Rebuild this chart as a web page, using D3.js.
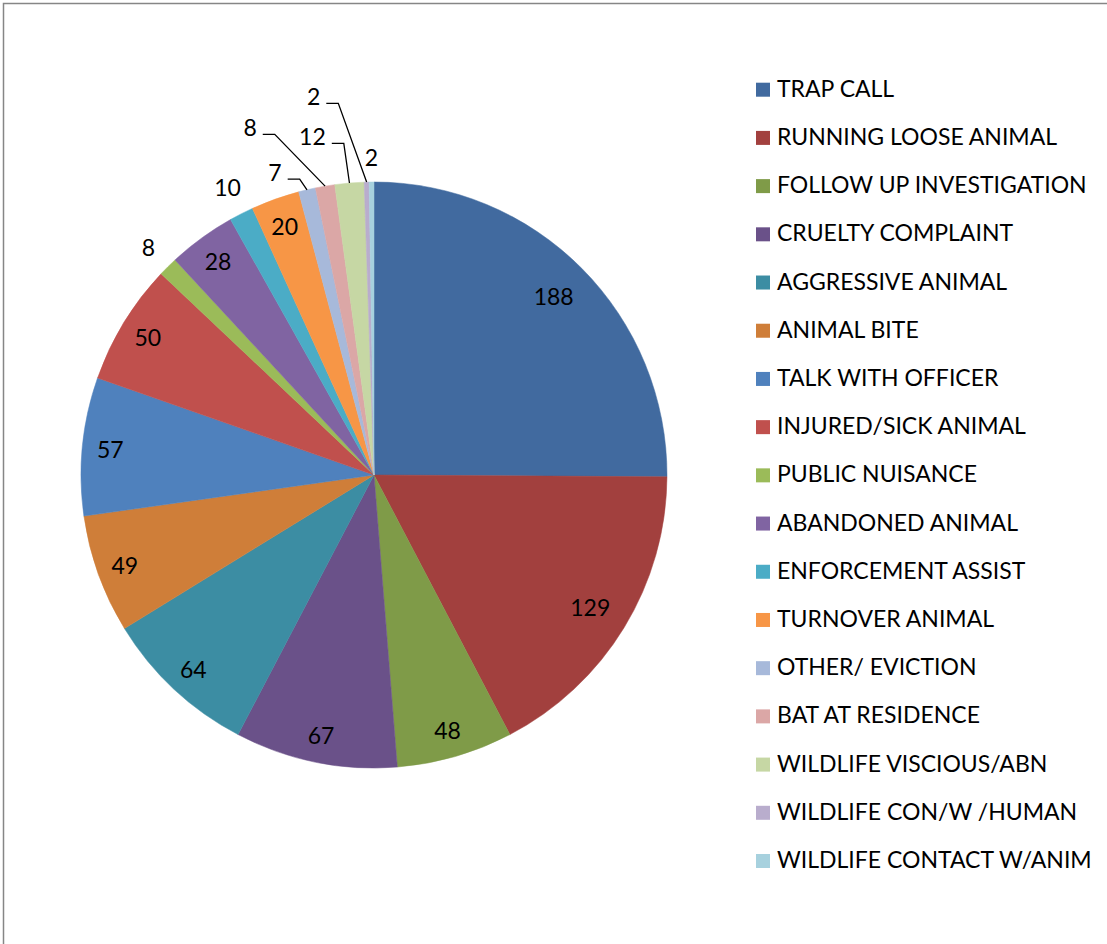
<!DOCTYPE html>
<html>
<head>
<meta charset="utf-8">
<script src="https://cdn.jsdelivr.net/npm/d3@7"></script>
<style>
  html, body { margin: 0; padding: 0; background: #fff; }
  svg { display: block; }
  text { font-family: "Lato", "Carlito", "Noto Sans", sans-serif; fill: #000; }
</style>
</head>
<body>
<svg id="chart" width="1107" height="944"></svg>
<script>
// ---- data ----
const categories = [
  "TRAP CALL", "RUNNING LOOSE ANIMAL", "FOLLOW UP INVESTIGATION", "CRUELTY COMPLAINT",
  "AGGRESSIVE ANIMAL", "ANIMAL BITE", "TALK WITH OFFICER", "INJURED/SICK ANIMAL",
  "PUBLIC NUISANCE", "ABANDONED ANIMAL", "ENFORCEMENT ASSIST", "TURNOVER ANIMAL",
  "OTHER/ EVICTION", "BAT AT RESIDENCE", "WILDLIFE VISCIOUS/ABN", "WILDLIFE CON/W /HUMAN",
  "WILDLIFE CONTACT W/ANIM"
];
const values = [188, 129, 48, 67, 64, 49, 57, 50, 8, 28, 10, 20, 7, 8, 12, 2, 2];
const colors = [
  "#416A9F", "#A2403E", "#7F9B48", "#6A5189", "#3C8DA3", "#CF7E39",
  "#4F81BD", "#C0504D", "#9BBB59", "#8064A2", "#4BACC6", "#F79646",
  "#A7B9DA", "#DBA7A6", "#C6D7A4", "#B9ADCD", "#A7D1DE"
];
// label placement mode per slice: "in" inside, "out" outside, "lead" outside with leader line
const labelMode = ["in","in","in","in","in","in","in","in","out","in","out","in","lead","lead","lead","lead","out"];
// leader label offsets from slice edge point (layout only)
const leaderOffsets = {12: [-32, -18], 13: [-75, -59], 14: [-37, -47], 15: [-53, -86]};

// ---- layout ----
const W = 1107, H = 944;
const cx = 374, cy = 475, R = 293;
const labelFont = 23, legendFont = 23;

const svg = d3.select("#chart");

// border
svg.append("rect")
  .attr("x", 3.5).attr("y", 3.5)
  .attr("width", W + 20).attr("height", H + 20)
  .attr("fill", "none").attr("stroke", "#868686").attr("stroke-width", 1.5);

const data = categories.map((c, i) => ({ name: c, value: values[i], color: colors[i], mode: labelMode[i], idx: i }));

const pie = d3.pie().value(d => d.value).sort(null);
const arcs = pie(data);
const arcGen = d3.arc().innerRadius(0).outerRadius(R);

const g = svg.append("g").attr("transform", `translate(${cx},${cy})`);

g.selectAll("path.slice")
  .data(arcs)
  .join("path")
  .attr("class", "slice")
  .attr("d", arcGen)
  .attr("fill", d => d.data.color)
  .attr("stroke", d => d.data.color)
  .attr("stroke-width", 0.5);

// labels
const labels = g.append("g");
arcs.forEach(a => {
  const mid = (a.startAngle + a.endAngle) / 2;
  const sx = Math.sin(mid), sy = -Math.cos(mid);
  const t = labels.append("text")
    .attr("font-size", labelFont)
    .attr("text-anchor", "middle")
    .attr("dominant-baseline", "central")
    .text(a.data.value);
  const w = t.node().getComputedTextLength();
  const h = labelFont * 0.72;
  if (a.data.mode === "in") {
    const d = 265 - Math.max(0, w - 27) * 0.9;
    t.attr("x", d * sx).attr("y", d * sy);
  } else if (a.data.mode === "out") {
    const ext = (w / 2) * Math.abs(sx) + (h / 2) * Math.abs(sy);
    const d = R + 17 + ext;
    t.attr("x", d * sx).attr("y", d * sy);
  } else {
    const ex = R * sx, ey = R * sy;
    const off = leaderOffsets[a.data.idx];
    const lx = ex + off[0], ly = ey + off[1];
    t.attr("x", lx).attr("y", ly);
    const startX = lx + w / 2 + 6, lineY = ly + h / 2 - 1;
    labels.append("polyline")
      .attr("points", [[startX, lineY], [startX + 12, lineY], [ex, ey]].map(p => p.join(",")).join(" "))
      .attr("fill", "none").attr("stroke", "#000").attr("stroke-width", 1.3);
  }
});

// legend
const legendY = d3.scalePoint().domain(categories).range([96.7, 868]);
const legend = svg.append("g");
const items = legend.selectAll("g.item").data(data).join("g")
  .attr("class", "item")
  .attr("transform", d => `translate(0,${legendY(d.name)})`);
items.append("rect")
  .attr("x", 756).attr("y", -14).attr("width", 14).attr("height", 14)
  .attr("fill", d => d.color);
items.append("text")
  .attr("x", 777).attr("y", 0)
  .attr("font-size", legendFont)
  .text(d => d.name);
</script>
</body>
</html>
